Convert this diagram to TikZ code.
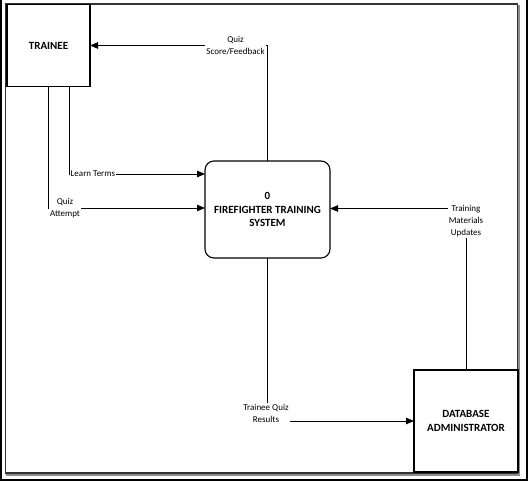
\documentclass[tikz,border=0pt]{standalone}
\usepackage{fontspec}
\setmainfont{Carlito}
\usetikzlibrary{arrows.meta}
\begin{document}
\begin{tikzpicture}[x=1pt,y=-1pt,
  entity/.style={draw, line width=1.1pt, inner sep=0pt, outer sep=0pt, align=center,
    font=\fontsize{11}{13.5}\selectfont\bfseries},
  process/.style={entity, rounded corners=9pt},
  flow/.style={line width=0.9pt, -{Triangle[length=8pt,width=6.5pt]}},
  lbl/.style={fill=white, inner sep=1pt, align=center, font=\fontsize{9}{12}\selectfont}]
\useasboundingbox (0,0) rectangle (528,481);
% page frame
\draw[line width=1.6pt] (1,0) -- (1,480) -- (527,480) -- (527,0);
\draw[line width=1.2pt, black!45] (7,6) rectangle (519,475);
\draw[line width=1.2pt, black!80, fill=white] (5.5,4) rectangle (517.5,473);
% nodes
\node[entity, minimum width=83pt, minimum height=82pt] (trainee) at (48.5,45.5) {TRAINEE};
\node[process, minimum width=125pt, minimum height=97pt] (proc) at (267.5,209.5) {0\\FIREFIGHTER TRAINING\\SYSTEM};
\node[entity, minimum width=104pt, minimum height=102pt] (db) at (466,421) {DATABASE\\ADMINISTRATOR};
% connectors
\coordinate (lt) at (69,174);
\coordinate (qa) at (48,208);
\coordinate (tm) at (466,208.5);
\draw[flow] (proc.north) |- (trainee.east);
\draw[flow] (trainee.south -| lt) -- (lt) -- (lt -| proc.west);
\draw[flow] (trainee.south -| qa) -- (qa) -- (qa -| proc.west);
\draw[flow] (db.north -| tm) -- (tm) -- (tm -| proc.east);
\draw[flow] (proc.south) |- (db.west);
% labels
\node[lbl] (l1) at (235.5,46) {Quiz\\Score/Feedback};
\node[lbl, anchor=west] (l2) at (69.5,174) {Learn Terms};
\node[lbl] (l3) at (65,208.5) {Quiz\\Attempt};
\node[lbl] (l4) at (466,221) {Training\\Materials\\Updates};
\node[lbl] (l5) at (266,413) {Trainee Quiz\\Results};
\end{tikzpicture}
\end{document}
